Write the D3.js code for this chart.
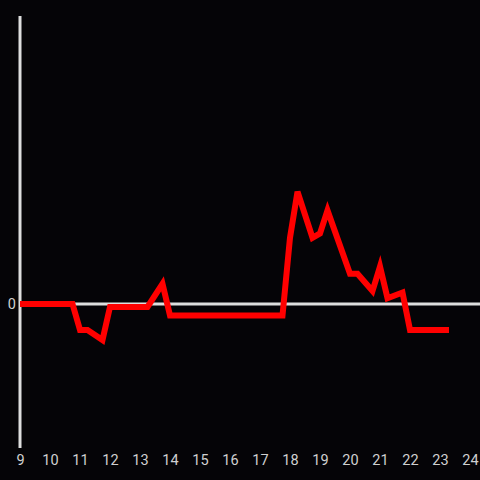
<!DOCTYPE html>
<html>
<head>
<meta charset="utf-8">
<script src="https://cdn.jsdelivr.net/npm/d3@7"></script>
<style>
  body { margin: 0; background: #050407; }
  svg { display: block; }
</style>
</head>
<body>
<svg id="chart" width="480" height="480"></svg>
<script>
// hours of day (x) and reading (y)
const hours = [9, 10.75, 11, 11.25, 11.75, 12, 13.25, 13.75, 14, 17.75, 18, 18.25, 18.75, 19, 19.25, 20, 20.25, 20.75, 21, 21.25, 21.75, 22, 23.3];
const values = [0, 0, -0.18, -0.18, -0.25, -0.02, -0.02, 0.14, -0.08, -0.08, 0.46, 0.78, 0.46, 0.49, 0.65, 0.21, 0.21, 0.09, 0.26, 0.04, 0.08, -0.18, -0.18];
const xTicks = [9, 10, 11, 12, 13, 14, 15, 16, 17, 18, 19, 20, 21, 22, 23, 24];
const yTicks = [0];

const svg = d3.select("#chart"),
  width = +svg.attr("width"),
  height = +svg.attr("height");

svg.append("rect").attr("width", width).attr("height", height).attr("fill", "#050407");

const x = d3.scaleLinear().domain([9, 24]).range([20, 470]);
const y = d3.scaleLinear().domain([-1, 2]).range([448, 16]);

const axisColor = "#dedede";

// vertical axis line
svg.append("line")
  .attr("x1", x(9)).attr("x2", x(9))
  .attr("y1", y(2)).attr("y2", y(-1))
  .attr("stroke", axisColor)
  .attr("stroke-width", 3);

// zero line
svg.append("line")
  .attr("x1", x(9)).attr("x2", width)
  .attr("y1", y(0)).attr("y2", y(0))
  .attr("stroke", axisColor)
  .attr("stroke-width", 3);

const xAxis = d3.axisBottom(x).tickValues(xTicks).tickSize(0).tickPadding(0).tickFormat(d3.format("d"));
const gx = svg.append("g").attr("transform", "translate(0,455)").call(xAxis);
gx.select(".domain").remove();
gx.selectAll("text")
  .attr("fill", "#d0d0d0")
  .attr("font-family", "Roboto, 'Noto Sans', sans-serif")
  .attr("font-size", 14.5)
  .attr("dy", "0.71em");

const yAxis = d3.axisLeft(y).tickValues(yTicks).tickSize(0).tickPadding(4).tickFormat(d3.format("d"));
const gy = svg.append("g").attr("transform", "translate(20,0)").call(yAxis);
gy.select(".domain").remove();
gy.selectAll("text")
  .attr("fill", "#d0d0d0")
  .attr("font-family", "Roboto, 'Noto Sans', sans-serif")
  .attr("font-size", 14.5);

const line = d3.line()
  .x((d, i) => x(hours[i]))
  .y(d => y(d));

svg.append("path")
  .datum(values)
  .attr("d", line)
  .attr("fill", "none")
  .attr("stroke", "#ff0000")
  .attr("stroke-width", 6)
  .attr("stroke-linejoin", "miter");
</script>
</body>
</html>
